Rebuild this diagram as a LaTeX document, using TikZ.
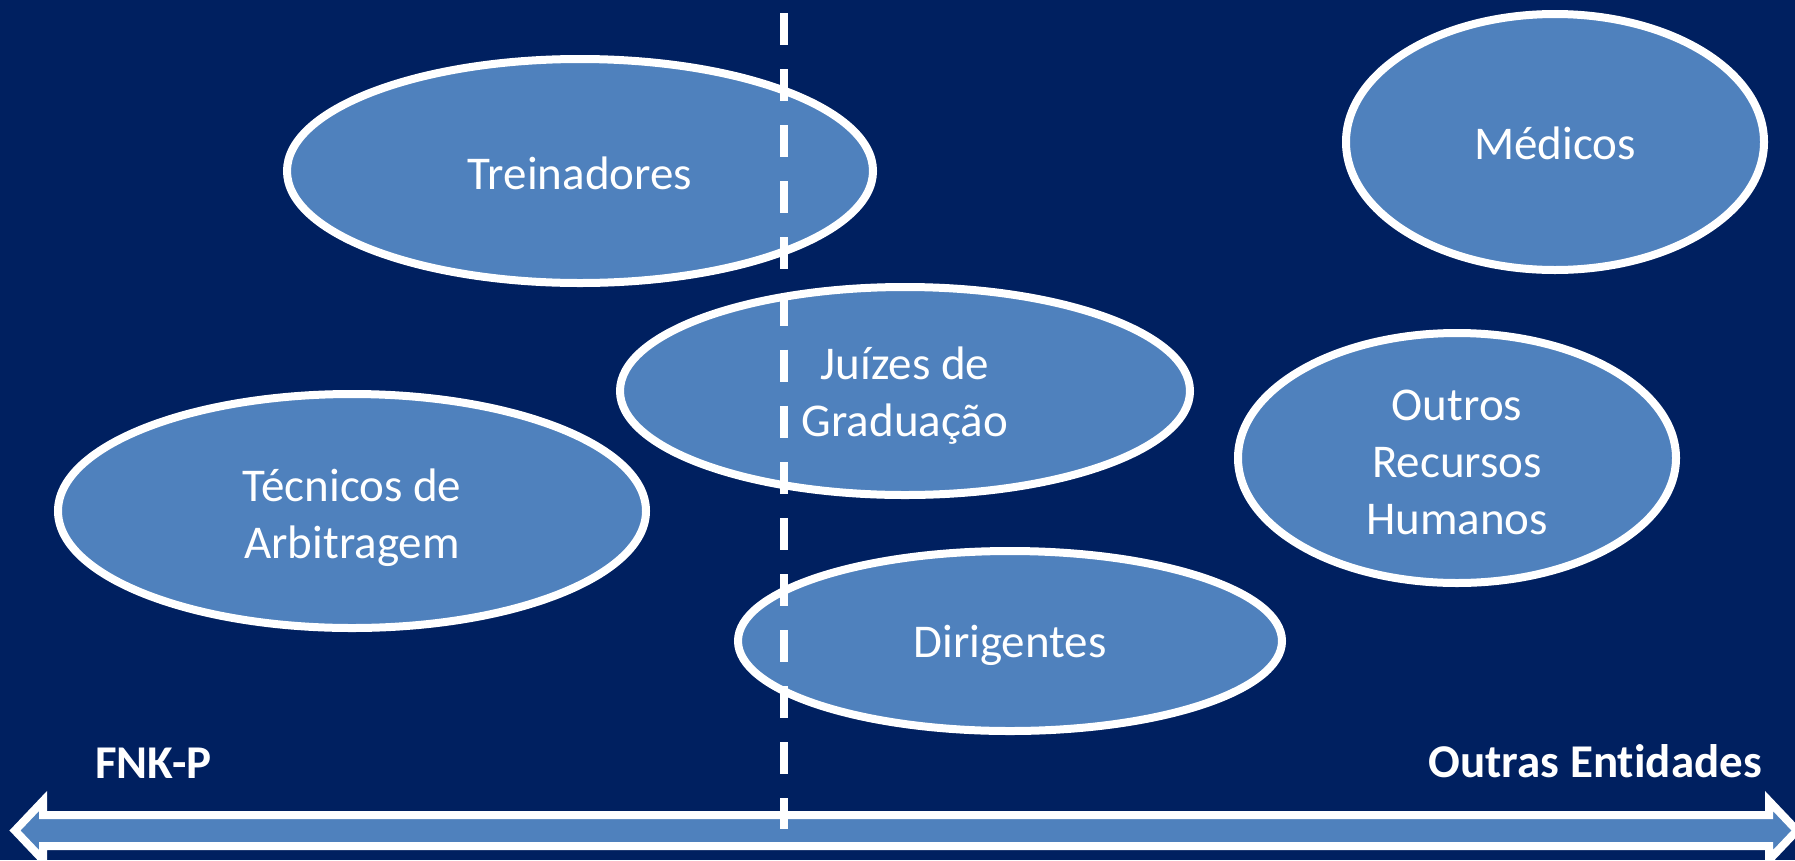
\documentclass[tikz,border=0pt]{standalone}
\usepackage{fontspec}
\setmainfont{Carlito}[Ligatures=NoCommon]
\usetikzlibrary{shapes.geometric}
\definecolor{bgnavy}{HTML}{002060}
\definecolor{ellblue}{HTML}{4F81BD}
\newcommand{\lowtxt}[2]{\raisebox{-#1}[\height][\depth]{\begin{tabular}{@{}c@{}}#2\end{tabular}}}
\tikzset{
  ell/.style={ellipse, draw=white, line width=8pt, fill=ellblue, text=white,
    inner sep=0pt, align=center, font=\fontsize{47}{57}\selectfont},
  sidelabel/.style={text=white, inner sep=0pt, font=\fontsize{47}{57}\selectfont\bfseries},
  divider/.style={draw=white, line width=8pt, dash pattern=on 32pt off 24.1pt},
  bigarrow/.style={draw=white, fill=ellblue, line width=8pt, line join=miter}
}
\begin{document}
\begin{tikzpicture}[x=1pt,y=-1pt]
\fill[bgnavy] (0,0) rectangle (1795,860);
\useasboundingbox (0,0) rectangle (1795,860);
\begin{scope}
\clip (0,0) rectangle (1795,860);
% double arrow
\draw[bigarrow] (15,830.5) -- (43,801) -- (43,815) -- (1769,815) -- (1769,801) -- (1797,830.5)
  -- (1769,860) -- (1769,846) -- (43,846) -- (43,860) -- cycle;
% ellipses
\node[ell, minimum width=586pt, minimum height=224pt] (trein) at (580,171) {\lowtxt{7pt}{Treinadores}};
\node[ell, minimum width=418pt, minimum height=256pt] (medicos) at (1555,142) {\lowtxt{6pt}{Médicos}};
\node[ell, minimum width=570pt, minimum height=208pt] (juizes) at (905,391) {\lowtxt{6pt}{Juízes de\\Graduação}};
\node[ell, minimum width=588pt, minimum height=234pt] (tecnicos) at (352,511) {\lowtxt{7.5pt}{Técnicos de\\Arbitragem}};
\node[ell, minimum width=438pt, minimum height=250pt] (outros) at (1457,458) {\lowtxt{8pt}{Outros\\Recursos\\Humanos}};
\node[ell, minimum width=544pt, minimum height=180pt] (dirig) at (1010,641) {\lowtxt{5pt}{Dirigentes}};
% labels
\node[sidelabel, anchor=base west] (fnk) at (95,778) {FNK-P};
\node[sidelabel, anchor=base east] (outras) at (1762,777) {Outras Entidades};
% dashed divider
\coordinate (dtop) at (784,13);
\coordinate (dbot) at (784,829);
\draw[divider] (dtop) -- (dbot);
\end{scope}
\end{tikzpicture}
\end{document}
